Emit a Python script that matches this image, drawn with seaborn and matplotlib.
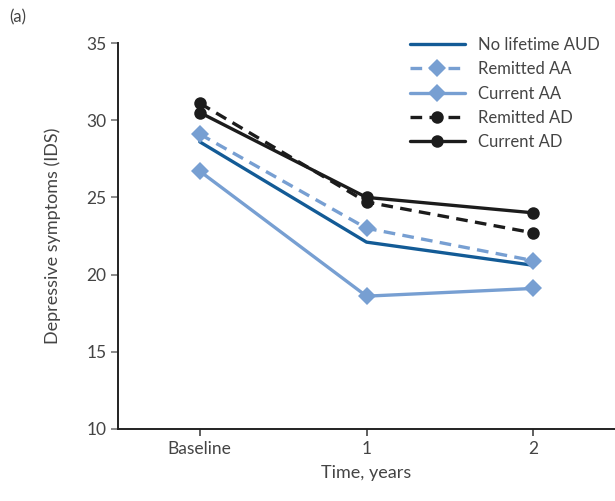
import pandas as pd
import seaborn as sns
import matplotlib.pyplot as plt

sns.set_theme(style="ticks")
plt.rcParams['font.family'] = ['Lato', 'DejaVu Sans']

# datos
time_labels = ["Baseline", "1", "2"]
time_pos = [0, 1, 2]
no_lifetime_aud = [28.6, 22.1, 20.6]
remitted_aa = [29.1, 23.0, 20.9]
current_aa = [26.7, 18.6, 19.1]
remitted_ad = [31.1, 24.7, 22.7]
current_ad = [30.5, 25.0, 24.0]

groups = {
    "No lifetime AUD": no_lifetime_aud,
    "Remitted AA": remitted_aa,
    "Current AA": current_aa,
    "Remitted AD": remitted_ad,
    "Current AD": current_ad,
}

rows = []
for g, vals in groups.items():
    for t, v in zip(time_pos, vals):
        rows.append({"group": g, "time": t, "ids": v})
df = pd.DataFrame(rows)

dark_blue = "#135b96"
light_blue = "#779fd2"
black = "#1c1c1c"
estilos = {
    "No lifetime AUD": dict(color=dark_blue, marker=None, ls="-"),
    "Remitted AA": dict(color=light_blue, marker="D", ls="--", ms=9),
    "Current AA": dict(color=light_blue, marker="D", ls="-", ms=9),
    "Remitted AD": dict(color=black, marker="o", ls="--", ms=9),
    "Current AD": dict(color=black, marker="o", ls="-", ms=9),
}

fig = plt.figure(figsize=(6.15, 5.01), dpi=100)
ax = fig.add_axes([0.192, 0.144, 0.808, 0.770])

for g in groups:
    st = estilos[g]
    kw = dict(color=st["color"], linewidth=2.4, label=g)
    if st["marker"]:
        kw.update(marker=st["marker"], markersize=st["ms"], markeredgewidth=0)
    sns.lineplot(data=df[df.group == g], x="time", y="ids", ax=ax, **kw)
    ln = ax.get_lines()[-1]
    if st["ls"] == "--":
        ln.set_dashes((3.5, 2.2))

txt = "#444444"
ax.set_xlim(-0.49, 2.49)
ax.set_ylim(10, 35)
ax.set_xticks(time_pos)
ax.set_xticklabels(time_labels)
ax.set_yticks([10, 15, 20, 25, 30, 35])
ax.tick_params(axis="both", labelsize=12.5, colors=txt, length=5, width=1.2, labelcolor=txt)
ax.tick_params(axis="y", color="#777777")
ax.set_xlabel("Time, years", fontsize=13, color=txt, labelpad=6)
ax.set_ylabel("Depressive symptoms (IDS)", fontsize=13, color=txt, labelpad=18)
sns.despine(ax=ax, top=True, right=True)
for s in ["left", "bottom"]:
    ax.spines[s].set_linewidth(1.4)
    ax.spines[s].set_color("#222222")

leg = ax.legend(loc="upper right", bbox_to_anchor=(1.0, 1.055), frameon=False,
                fontsize=12, handlelength=3.3, labelspacing=0.5, handletextpad=0.8)
for t in leg.get_texts():
    t.set_color(txt)

fig.text(0.015, 0.955, "(a)", fontsize=12, color=txt)

plt.savefig("out.png", dpi=100)
